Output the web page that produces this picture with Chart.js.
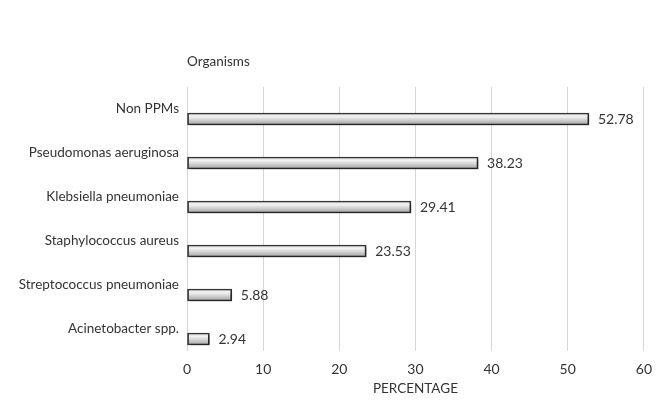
<!DOCTYPE html>
<html>
<head>
<meta charset="utf-8">
<script src="https://cdn.jsdelivr.net/npm/chart.js@4"></script>
<style>
  html, body { margin: 0; padding: 0; background: #fff; }
  #wrap { width: 662px; height: 405px; }
</style>
</head>
<body>
<div id="wrap"><canvas id="orgChart" width="662" height="405"></canvas></div>
<script>
const organisms = [
  "Non PPMs",
  "Pseudomonas aeruginosa",
  "Klebsiella pneumoniae",
  "Staphylococcus aureus",
  "Streptococcus pneumoniae",
  "Acinetobacter spp.",
];
const percentages = [52.78, 38.23, 29.41, 23.53, 5.88, 2.94];
const xTicks = [0, 10, 20, 30, 40, 50, 60];

const FONT = "Lato, 'Open Sans', sans-serif";
const BAR_SHIFT = 10; // bars sit a little below their label

// gradient fill for each bar, built from the y scale
function barFill(context) {
  const chart = context.chart;
  const yScale = chart.scales.y;
  if (!chart.chartArea || !yScale) return "#d0d0d0";
  const y = yScale.getPixelForValue(context.dataIndex);
  const g = chart.ctx.createLinearGradient(0, y - 6, 0, y + 6);
  g.addColorStop(0, "#dcdcdc");
  g.addColorStop(0.3, "#f2f2f2");
  g.addColorStop(1, "#a0a0a0");
  return g;
}

// shadow + offset for bars, value labels, header text
const barDecor = {
  id: "barDecor",
  beforeDatasetsDraw(chart) {
    const ctx = chart.ctx;
    ctx.save();
    ctx.translate(0, BAR_SHIFT);
    ctx.shadowColor = "rgba(0,0,0,0.35)";
    ctx.shadowOffsetX = 2;
    ctx.shadowOffsetY = 2;
    ctx.shadowBlur = 3;
  },
  afterDatasetsDraw(chart) {
    const ctx = chart.ctx;
    ctx.restore();
    const meta = chart.getDatasetMeta(0);
    ctx.save();
    ctx.font = "14px " + FONT;
    ctx.fillStyle = "#333";
    ctx.textAlign = "left";
    ctx.textBaseline = "middle";
    meta.data.forEach((bar, i) => {
      ctx.fillText(percentages[i].toFixed(2), bar.x + 9, bar.y + BAR_SHIFT);
    });
    ctx.font = "13.5px " + FONT;
    ctx.fillText("Organisms", chart.chartArea.left, 62);
    ctx.restore();
  },
};

new Chart(document.getElementById("orgChart"), {
  type: "bar",
  data: {
    labels: organisms,
    datasets: [
      {
        data: percentages,
        backgroundColor: barFill,
        borderColor: "#333",
        borderWidth: 1.7,
        borderSkipped: false,
        barThickness: 12,
      },
    ],
  },
  options: {
    indexAxis: "y",
    responsive: false,
    animation: false,
    layout: { padding: { left: 0, right: 12, top: 87, bottom: 0 } },
    plugins: {
      legend: { display: false },
      tooltip: { enabled: false },
    },
    scales: {
      x: {
        min: 0,
        max: 60,
        afterBuildTicks(scale) {
          scale.ticks = xTicks.map((v) => ({ value: v }));
        },
        afterFit(scale) {
          scale.height = 54;
        },
        grid: { color: "#d6d6d6", lineWidth: 1, drawTicks: false },
        border: { display: false },
        ticks: {
          padding: 10,
          color: "#333",
          font: { family: FONT, size: 14 },
        },
        title: {
          display: true,
          text: "PERCENTAGE",
          color: "#333",
          font: { family: FONT, size: 13.5 },
          padding: { top: 0, bottom: 8 },
        },
      },
      y: {
        afterFit(scale) {
          scale.width = 187;
        },
        grid: { display: false },
        border: { display: false },
        ticks: {
          padding: 0,
          color: "#333",
          font: { family: FONT, size: 13.5 },
        },
      },
    },
  },
  plugins: [barDecor],
});
</script>
</body>
</html>
